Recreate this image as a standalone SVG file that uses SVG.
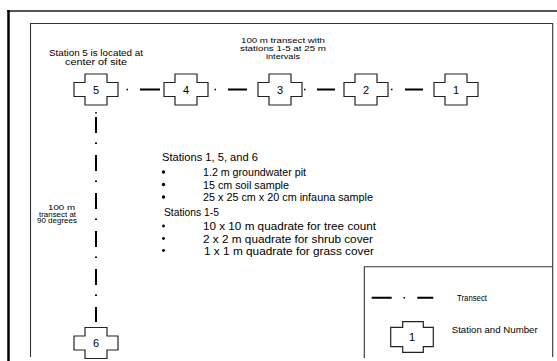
<svg xmlns="http://www.w3.org/2000/svg" width="557" height="361" viewBox="0 0 557 361">
<style>
.st{fill:#fff;stroke:#222;stroke-width:1.2}
.num{font-family:"Liberation Sans",Arial,sans-serif;font-size:11px;fill:#000;text-anchor:middle}
.lbl{font-family:"Liberation Sans",Arial,sans-serif;fill:#000}
.tr{stroke:#000;stroke-width:2;fill:none}
.dot{stroke:#000;stroke-width:1.5;fill:none}
</style>
<defs>
<path id="cross" d="M-11,-15.5 H11 V-7 H22 V7 H11 V15.5 H-11 V7 H-22 V-7 H-11 Z"/>
</defs>
<rect width="557" height="361" fill="#fff"/>
<g id="frame" fill="none">
<path d="M7,11 H557" stroke="#555" stroke-width="2"/>
<path d="M8.5,10 V361" stroke="#000" stroke-width="2.5"/>
<path d="M30.5,357 V23.5 H552.7 V357" stroke="#333" stroke-width="1.1"/>
<path d="M364.3,358 V266.7 H552.7" stroke="#333" stroke-width="1.1"/>
</g>
<g id="connectors">
<path class="dot" d="M126.5,89.5 h1.5 M214.5,89.5 h1.5 M304,89.5 h1.5 M391,89.5 h1.5"/>
<path class="tr" d="M140,89.5 H160 M228,89.5 H247 M317,89.5 H335 M405,89.5 H423"/>
<path class="dot" d="M96,112 v1.5"/>
<path class="tr" d="M96,117 V322" stroke-dasharray="16 9.5 1.5 11"/>
</g>
<g id="station5"><use href="#cross" class="st" x="96" y="89.5"/><text class="num" x="96" y="93.5">5</text></g>
<g id="station4"><use href="#cross" class="st" x="186" y="89.5"/><text class="num" x="186" y="93.5">4</text></g>
<g id="station3"><use href="#cross" class="st" x="280" y="89.5"/><text class="num" x="280" y="93.5">3</text></g>
<g id="station2"><use href="#cross" class="st" x="366" y="89.5"/><text class="num" x="366" y="93.5">2</text></g>
<g id="station1"><use href="#cross" class="st" x="456" y="89.5"/><text class="num" x="456" y="93.5">1</text></g>
<g id="station6"><use href="#cross" class="st" x="96" y="343"/><text class="num" x="96" y="347">6</text></g>
<g id="note5" class="lbl" font-size="9.2">
<text x="49" y="56" textLength="94" lengthAdjust="spacingAndGlyphs">Station 5 is located at</text>
<text x="65" y="64.5" textLength="62" lengthAdjust="spacingAndGlyphs">center of site</text>
</g>
<g id="note-transect" class="lbl" font-size="7.6">
<text x="241" y="43" textLength="84" lengthAdjust="spacingAndGlyphs">100 m transect with</text>
<text x="240" y="51.3" textLength="86" lengthAdjust="spacingAndGlyphs">stations 1-5 at 25 m</text>
<text x="266" y="59" textLength="34" lengthAdjust="spacingAndGlyphs">intervals</text>
</g>
<g id="note-90" class="lbl" font-size="6.6">
<text x="48" y="210" textLength="27" lengthAdjust="spacingAndGlyphs">100 m</text>
<text x="39" y="216.5" textLength="37" lengthAdjust="spacingAndGlyphs">transect at</text>
<text x="37" y="223" textLength="40" lengthAdjust="spacingAndGlyphs">90 degrees</text>
</g>
<g id="list" class="lbl" font-size="11">
<text x="162" y="161" textLength="96" lengthAdjust="spacingAndGlyphs">Stations 1, 5, and 6</text>
<circle cx="163.5" cy="172" r="1.7"/>
<circle cx="163.5" cy="184.5" r="1.7"/>
<circle cx="163.5" cy="197" r="1.7"/>
<text x="203" y="176" textLength="103" lengthAdjust="spacingAndGlyphs">1.2 m groundwater pit</text>
<text x="203" y="188.5" textLength="86" lengthAdjust="spacingAndGlyphs">15 cm soil sample</text>
<text x="203" y="201" textLength="170" lengthAdjust="spacingAndGlyphs">25 x 25 cm x 20 cm infauna sample</text>
<text x="164" y="216" textLength="55" lengthAdjust="spacingAndGlyphs">Stations 1-5</text>
<circle cx="163.5" cy="226" r="1.4"/>
<circle cx="163.5" cy="238.5" r="1.4"/>
<circle cx="163.5" cy="250.5" r="1.4"/>
<text x="203" y="230" textLength="173" lengthAdjust="spacingAndGlyphs">10 x 10 m quadrate for tree count</text>
<text x="203" y="242.5" textLength="170" lengthAdjust="spacingAndGlyphs">2 x 2 m quadrate for shrub cover</text>
<text x="204" y="254.5" textLength="170" lengthAdjust="spacingAndGlyphs">1 x 1 m quadrate for grass cover</text>
</g>
<g id="legend">
<path class="tr" d="M371.7,297.7 H391.7 M417.3,297.7 H433.3"/>
<path class="dot" d="M403.5,297.7 h1.5"/>
<text class="lbl" font-size="8.3" x="457" y="300.5" textLength="30" lengthAdjust="spacingAndGlyphs">Transect</text>
<path class="st" d="M402.7,321.7 H423.3 V327.3 H433.3 V346.7 H423.3 V352.3 H402.7 V346.7 H390.7 V327.3 H402.7 Z"/>
<text class="num" font-size="10" x="412" y="341">1</text>
<text class="lbl" font-size="8.3" x="451.7" y="332.5" textLength="86" lengthAdjust="spacingAndGlyphs">Station and Number</text>
</g>
</svg>
